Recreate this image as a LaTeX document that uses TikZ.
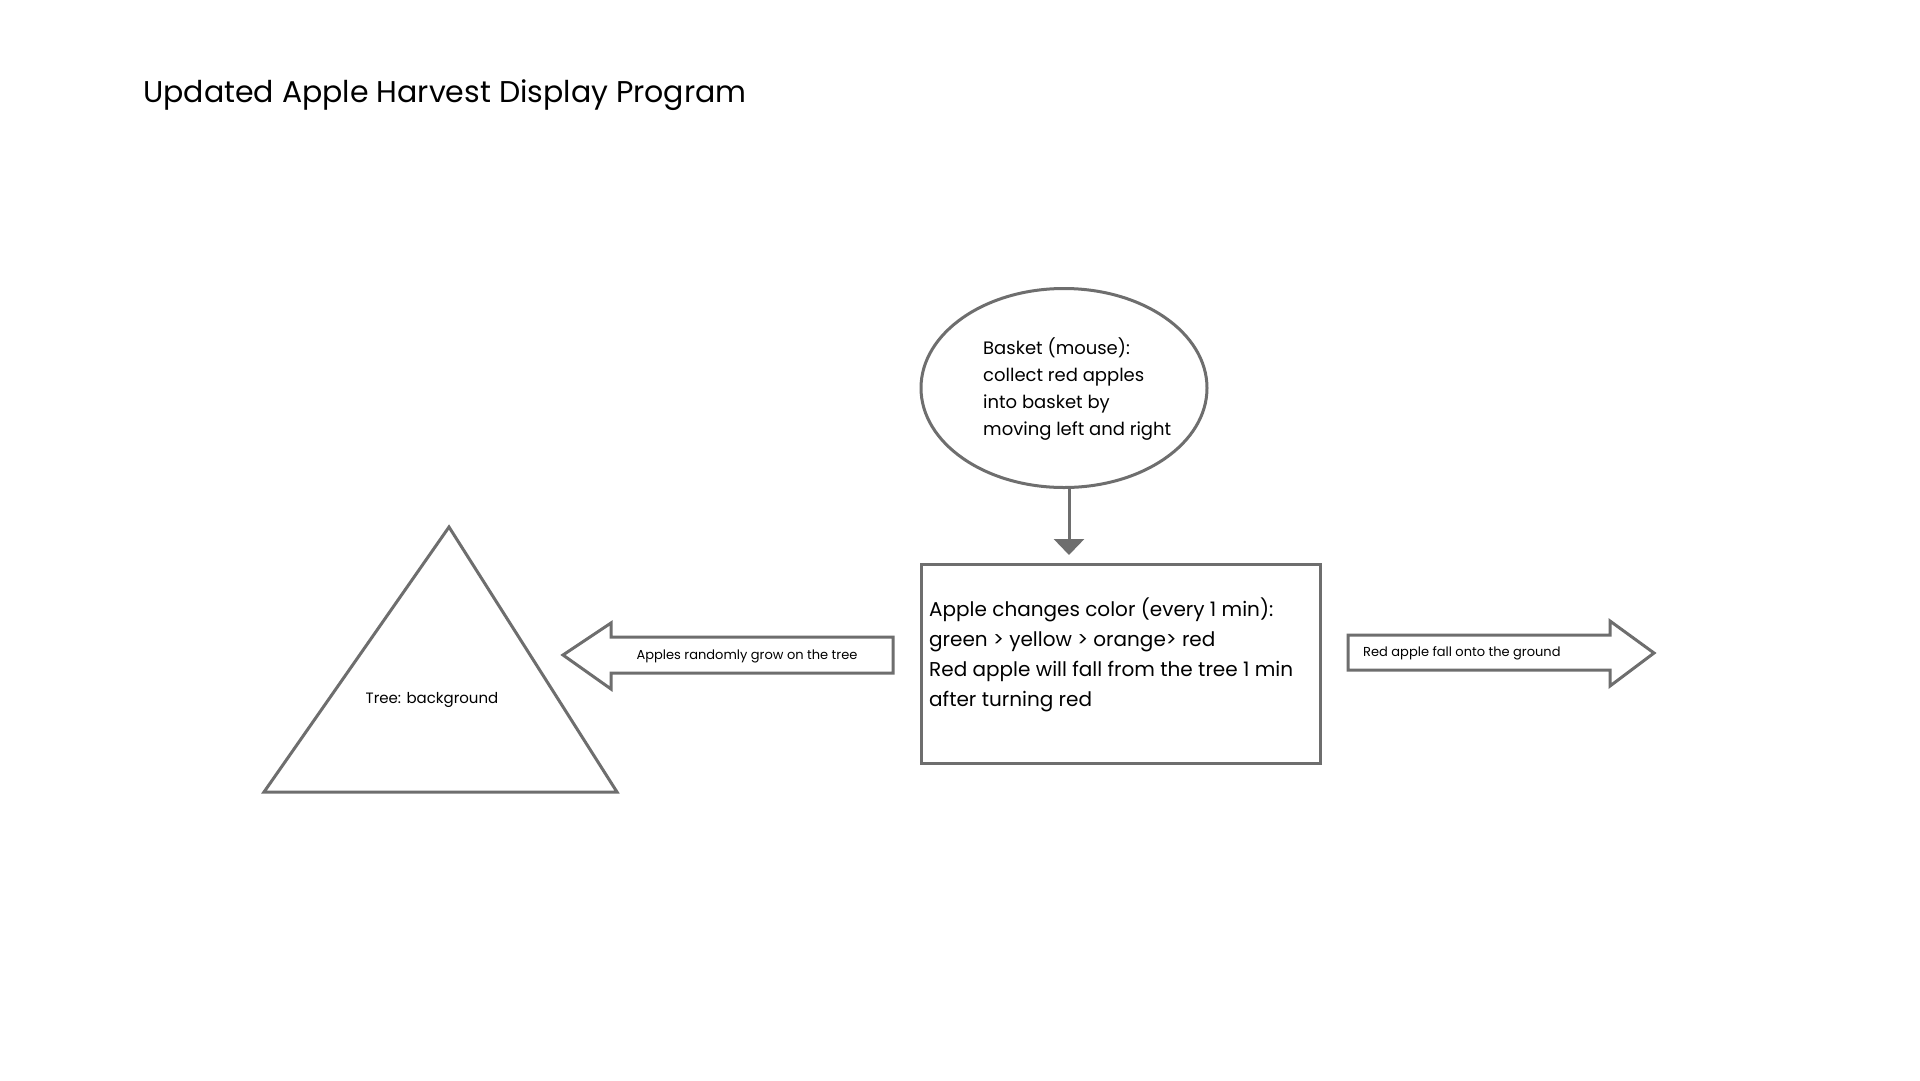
\documentclass[tikz,border=0pt]{standalone}
\usepackage{fontspec}
\setmainfont{Poppins}
\usetikzlibrary{shapes.geometric,arrows.meta}
\definecolor{edge}{HTML}{6E6E6E}
\tikzset{
  shapeline/.style={draw=edge, line width=3bp},
  bigtext/.style={font=\fontsize{20bp}{30bp}\selectfont, align=left, inner sep=0pt},
  midtext/.style={font=\fontsize{18bp}{27bp}\selectfont, align=left, inner sep=0pt},
  smalltext/.style={font=\fontsize{13bp}{16bp}\selectfont, inner sep=0pt},
}
\begin{document}
\begin{tikzpicture}[x=1bp,y=-1bp]
\useasboundingbox[fill=white] (0,0) rectangle (1920,1080);
% title
\node[anchor=west, font=\fontsize{30bp}{36bp}\selectfont, inner sep=0pt] (title) at (143,95) {Updated Apple Harvest Display Program};
% basket ellipse
\node[shapeline, ellipse, minimum width=286bp, minimum height=199bp, inner sep=0pt] (basket) at (1064,388) {};
\node[midtext, anchor=west] (baskettext) at (983,389) {Basket (mouse):\\collect red apples\\into basket by\\moving left and right};
% apple rectangle
\node[shapeline, rectangle, minimum width=399bp, minimum height=199bp, inner sep=0pt] (apple) at (1120.5,663.5) {};
\node[bigtext, anchor=west] (appletext) at (929,655) {Apple changes color (every 1 min):\\green > yellow > orange> red\\Red apple will fall from the tree 1 min\\after turning red};
% connector basket -> apple
\coordinate (tipc) at (1069,555);
\draw[draw=edge, line width=3bp, -{Triangle[width=30bp,length=16bp]}] (basket.south -| tipc) -- (tipc);
% tree triangle
\coordinate (tA) at (449,527);
\coordinate (tL) at (264,792);
\coordinate (tR) at (617,792);
\draw[shapeline, line join=miter] (tA) -- (tL) -- (tR) -- cycle;
\node[smalltext, font=\fontsize{15bp}{18bp}\selectfont] (treetext) at (432,700) {Tree: background};
% left block arrow
\draw[shapeline] (563,655) -- (611,623) -- (611,637) -- (893,637) -- (893,673) -- (611,673) -- (611,689) -- cycle;
\node[smalltext] (growtext) at (747,656) {Apples randomly grow on the tree};
% right block arrow
\draw[shapeline] (1348,635) -- (1610,635) -- (1610,621) -- (1654,653) -- (1610,686) -- (1610,670) -- (1348,670) -- cycle;
\node[smalltext, anchor=west] (falltext) at (1363,653) {Red apple fall onto the ground};
\end{tikzpicture}
\end{document}
